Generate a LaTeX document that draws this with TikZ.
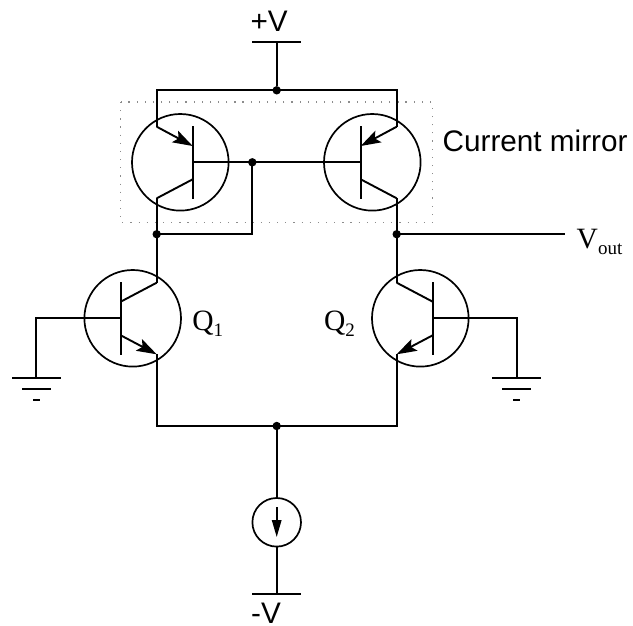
\documentclass[tikz,border=0pt]{standalone}
\usepackage{fontspec}
\setmainfont{Liberation Serif}
\newfontfamily\labelsans{Liberation Sans}
\usetikzlibrary{arrows.meta}
\newcommand{\lowsub}[1]{\raisebox{-6pt}{\fontsize{19}{19}\selectfont #1}}
\tikzset{
  wire/.style={line width=1.9pt,draw=black,line join=miter},
  tcircle/.style={circle,draw=black,line width=1.7pt,minimum size=96.6pt,inner sep=0pt,outer sep=0pt},
  scircle/.style={circle,draw=black,line width=1.7pt,minimum size=48.6pt,inner sep=0pt,outer sep=0pt},
  emit/.style={wire,-{Stealth[length=20pt,width=13pt,inset=4pt]}},
  dotnode/.style={circle,fill=black,inner sep=0pt,minimum size=8.4pt},
  sanslabel/.style={font=\labelsans\fontsize{29.7}{30}\selectfont,inner sep=0pt,text=black},
  seriflabel/.style={font=\fontsize{29.5}{30}\selectfont,inner sep=0pt,text=black},
  mirrorbox/.style={draw=black!45,line width=1.2pt,dash pattern=on 1.2pt off 6.95pt}
}
\begin{document}
\begin{tikzpicture}[x=1pt,y=-1pt]
\useasboundingbox (0,0) rectangle (633,625);
\fill[white] (0,0) rectangle (633,625);
\draw[mirrorbox] (120.7,102) rectangle (432.3,222.7);
% transistor bodies
\node[tcircle] (Q3) at (180.3,162.3) {};
\node[tcircle] (Q4) at (372.3,162.3) {};
\node[tcircle] (Q1) at (132.7,318.3) {};
\node[tcircle] (Q2) at (420.3,318.3) {};
\node[scircle] (src) at (276.7,522.3) {};
% junctions
\node[dotnode] (top) at (276.7,90.3) {};
\node[dotnode] (bj) at (252.3,162.3) {};
\node[dotnode] (cl) at (156.7,234.2) {};
\node[dotnode] (cr) at (396.7,234.2) {};
\node[dotnode] (bot) at (276.7,426) {};
% Q3 pins
\coordinate (Q3bt) at (192.7,126);
\coordinate (Q3bb) at (192.7,199);
\coordinate (Q3b) at (192.7,162.3);
\coordinate (Q3e) at (156.7,126.7);
\coordinate (Q3ei) at (192.7,146);
\coordinate (Q3c) at (156.7,198.3);
\coordinate (Q3ci) at (192.7,179.3);
% Q4 pins
\coordinate (Q4bt) at (360.7,126);
\coordinate (Q4bb) at (360.7,199);
\coordinate (Q4b) at (360.7,162.3);
\coordinate (Q4e) at (396.7,126.7);
\coordinate (Q4ei) at (360.7,146);
\coordinate (Q4c) at (396.7,198.3);
\coordinate (Q4ci) at (360.7,179.3);
% Q1 pins
\coordinate (Q1bt) at (120.7,282);
\coordinate (Q1bb) at (120.7,355);
\coordinate (Q1b) at (120.7,318.3);
\coordinate (Q1c) at (156.7,282.7);
\coordinate (Q1ci) at (120.7,301.7);
\coordinate (Q1e) at (156.7,354.3);
\coordinate (Q1ei) at (120.7,335.3);
% Q2 pins
\coordinate (Q2bt) at (432.7,282);
\coordinate (Q2bb) at (432.7,355);
\coordinate (Q2b) at (432.7,318.3);
\coordinate (Q2c) at (396.7,282.7);
\coordinate (Q2ci) at (432.7,301.7);
\coordinate (Q2e) at (396.7,354.3);
\coordinate (Q2ei) at (432.7,335.3);
% Q3 and Q4
\draw[wire] (Q3bt) -- (Q3bb);
\draw[wire] (Q4bt) -- (Q4bb);
\draw[emit] (Q3e) -- (Q3ei);
\draw[emit] (Q4e) -- (Q4ei);
\draw[wire] (Q3ci) -- (Q3c);
\draw[wire] (Q4ci) -- (Q4c);
% Q1 and Q2
\draw[wire] (Q1bt) -- (Q1bb);
\draw[wire] (Q2bt) -- (Q2bb);
\draw[wire] (Q1ci) -- (Q1c);
\draw[wire] (Q2ci) -- (Q2c);
\draw[emit] (Q1ei) -- (Q1e);
\draw[emit] (Q2ei) -- (Q2e);
% supply
\coordinate (vpl) at (252,42.3);
\coordinate (vpr) at (301.4,42.3);
\coordinate (vpm) at (276.7,42.3);
\draw[wire] (vpl) -- (vpr);
\draw[wire] (vpm) -- (top);
\draw[wire] (Q3e) |- (top.center) -| (Q4e);
% mirror connections
\draw[wire] (Q3b) -- (bj.center) -- (Q4b);
\draw[wire] (bj.center) |- (cl.center);
\draw[wire] (Q3c) -- (cl.center) -- (Q1c);
\draw[wire] (Q4c) -- (cr.center) -- (Q2c);
\coordinate (voutend) at (565.3,234.2);
\draw[wire] (cr.center) -- (voutend);
% tail
\draw[wire] (Q1e) |- (bot.center) -| (Q2e);
\draw[wire] (bot) -- (src);
\coordinate (vnl) at (252,594);
\coordinate (vnr) at (301.4,594);
\coordinate (vnm) at (276.7,594);
\draw[wire] (vnl) -- (vnr);
\draw[wire] (src) -- (vnm);
\coordinate (srct) at (276.7,507.3);
\coordinate (srcb) at (276.7,537);
\draw[wire,line width=1.6pt,-{Stealth[length=17pt,width=9.5pt,inset=0pt]}] (srct) -- (srcb);
% left ground
\coordinate (gl) at (36.3,378);
\draw[wire] (Q1b) -| (gl);
\coordinate (gl1a) at (12,378); \coordinate (gl1b) at (61.4,378);
\coordinate (gl2a) at (22.3,389); \coordinate (gl2b) at (50.7,389);
\coordinate (gl3a) at (33,399.7); \coordinate (gl3b) at (40,399.7);
\draw[wire] (gl1a) -- (gl1b);
\draw[wire] (gl2a) -- (gl2b);
\draw[wire] (gl3a) -- (gl3b);
% right ground
\coordinate (gr) at (516.7,378);
\draw[wire] (Q2b) -| (gr);
\coordinate (gr1a) at (492,378); \coordinate (gr1b) at (541.4,378);
\coordinate (gr2a) at (502.3,389); \coordinate (gr2b) at (530.7,389);
\coordinate (gr3a) at (513,399.7); \coordinate (gr3b) at (520,399.7);
\draw[wire] (gr1a) -- (gr1b);
\draw[wire] (gr2a) -- (gr2b);
\draw[wire] (gr3a) -- (gr3b);
% labels
\node[sanslabel,anchor=base west] (lvp) at (250.3,31) {+V};
\node[sanslabel,anchor=base west] (lvn) at (251,623.5) {-V};
\node[sanslabel,anchor=base west] (lcm) at (442.5,151.5) {Current mirror};
\node[seriflabel,anchor=base west] (lq1) at (192.2,330) {Q\lowsub{1}};
\node[seriflabel,anchor=base west] (lq2) at (323.8,330) {Q\lowsub{2}};
\node[seriflabel,anchor=base west] (lvo) at (576.5,248) {V\lowsub{out}};
\end{tikzpicture}
\end{document}
